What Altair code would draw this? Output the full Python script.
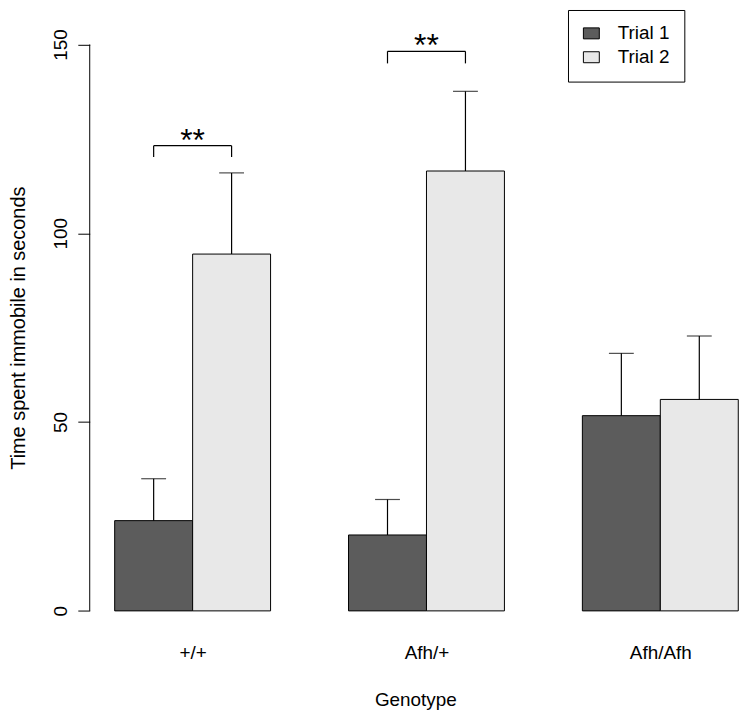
import altair as alt
import pandas as pd

# ---- data ----
genotypes = ["+/+", "Afh/+", "Afh/Afh"]
trials = ["Trial 1", "Trial 2"]
mean_trial1 = [23.9, 20.1, 51.7]
mean_trial2 = [94.5, 116.5, 56.0]
upper_trial1 = [35.0, 29.5, 68.2]
upper_trial2 = [116.0, 137.6, 72.8]
y_ticks = [0, 50, 100, 150]

# significance brackets (group index, bracket top, bracket foot, label)
sig_group = [0, 1]
sig_top = [123.2, 148.2]
sig_foot = [120.2, 145.0]
sig_text_y = [121.9, 147.0]
sig_label = ["**", "**"]

FONT = "Liberation Sans"
DARK = "#5c5c5c"
LIGHT = "#e8e8e8"
FS = 19

rows = []
for g, name in enumerate(genotypes):
    for t, (means, ups) in enumerate([(mean_trial1, upper_trial1), (mean_trial2, upper_trial2)]):
        left = 1 + 3 * g + t
        rows.append(dict(genotype=name, trial=trials[t], xl=left, xr=left + 1,
                         xc=left + 0.5, value=means[g], upper=ups[g], base=0))
bars = pd.DataFrame(rows)

centers = [2 + 3 * g for g in range(len(genotypes))]

sig_rows = []
for i, g in enumerate(sig_group):
    sig_rows.append(dict(x1=1.5 + 3 * g, x2=2.5 + 3 * g, xm=2 + 3 * g,
                         top=sig_top[i], foot=sig_foot[i], ty=sig_text_y[i], label=sig_label[i]))
sig = pd.DataFrame(sig_rows)

axis_df = pd.DataFrame({"y0": [min(y_ticks)], "y1": [max(y_ticks)]})

xscale = alt.Scale(domain=[0.68, 9.035], nice=False, zero=False)
yscale = alt.Scale(domain=[-6, 159.14], nice=False, zero=False)

label_expr = " : ".join(
    f"datum.value == {c} ? '{n}'" for c, n in zip(centers[:-1], genotypes[:-1])
) + f" : '{genotypes[-1]}'"

x_axis = alt.Axis(values=centers, labelExpr=label_expr, domain=False, ticks=False, tickSize=0,
                  grid=False, labelPadding=10, labelFont=FONT, labelFontSize=FS,
                  labelColor="black", title="Genotype", titleFont=FONT, titleFontSize=FS,
                  titleFontWeight="normal", titleColor="black", titleBaseline="alphabetic",
                  titleY=72)
y_axis = alt.Axis(values=y_ticks, domain=False, grid=False, tickSize=12, tickColor="black",
                  tickWidth=1, labelAngle=270, labelAlign="center", labelBaseline="alphabetic",
                  labelPadding=11, labelFont=FONT, labelFontSize=FS, labelColor="black",
                  title="Time spent immobile in seconds", titleFont=FONT, titleFontSize=20,
                  titleFontWeight="normal", titleColor="black", titleAngle=270,
                  titleAlign="center", titleBaseline="alphabetic", titleX=-65.5, titleY=319.5)

bar_layer = alt.Chart(bars).mark_bar(stroke="black", strokeWidth=1).encode(
    x=alt.X("xl:Q", scale=xscale, axis=x_axis),
    x2="xr:Q",
    y=alt.Y("value:Q", scale=yscale, axis=y_axis),
    y2="base:Q",
    color=alt.Color("trial:N", scale=alt.Scale(domain=trials, range=[DARK, LIGHT]),
                    legend=alt.Legend(title=None, orient="none", legendX=481, legendY=0,
                                      padding=14, strokeColor="black", fillColor="white",
                                      symbolType="M-1,-0.69H1V0.69H-1Z", symbolSize=256,
                                      symbolStrokeColor="black", symbolStrokeWidth=1,
                                      labelFont=FONT, labelFontSize=FS, labelColor="black",
                                      labelOffset=17, rowPadding=4)),
)

err_layer = alt.Chart(bars).mark_rule(color="black", strokeWidth=1.2).encode(
    x=alt.X("xc:Q", scale=xscale), y=alt.Y("value:Q", scale=yscale), y2="upper:Q"
)
cap_layer = alt.Chart(bars).mark_tick(color="black", orient="horizontal", size=25,
                                      thickness=1.2).encode(
    x=alt.X("xc:Q", scale=xscale), y=alt.Y("upper:Q", scale=yscale)
)

yaxis_line = alt.Chart(axis_df).mark_rule(color="black", strokeWidth=1).encode(
    x=alt.value(0), y=alt.Y("y0:Q", scale=yscale), y2="y1:Q"
)

br_h = alt.Chart(sig).mark_rule(color="black", strokeWidth=1.2).encode(
    x=alt.X("x1:Q", scale=xscale), x2="x2:Q", y=alt.Y("top:Q", scale=yscale)
)
br_l = alt.Chart(sig).mark_rule(color="black", strokeWidth=1.2).encode(
    x=alt.X("x1:Q", scale=xscale), y=alt.Y("top:Q", scale=yscale), y2="foot:Q"
)
br_r = alt.Chart(sig).mark_rule(color="black", strokeWidth=1.2).encode(
    x=alt.X("x2:Q", scale=xscale), y=alt.Y("top:Q", scale=yscale), y2="foot:Q"
)
br_t = alt.Chart(sig).mark_text(font=FONT, fontSize=32, color="black", align="center",
                                baseline="alphabetic").encode(
    x=alt.X("xm:Q", scale=xscale), y=alt.Y("ty:Q", scale=yscale), text="label:N"
)

chart = alt.layer(bar_layer, err_layer, cap_layer, yaxis_line, br_h, br_l, br_r, br_t).properties(
    width=655, height=627.1,
    autosize=alt.AutoSizeParams(type="none"),
    padding={"left": 82.2, "top": 0, "right": 0, "bottom": 77},
    background="white",
).configure_view(strokeWidth=0, stroke="transparent")

chart.save("out.html", embed_options={"renderer": "svg", "actions": False})
